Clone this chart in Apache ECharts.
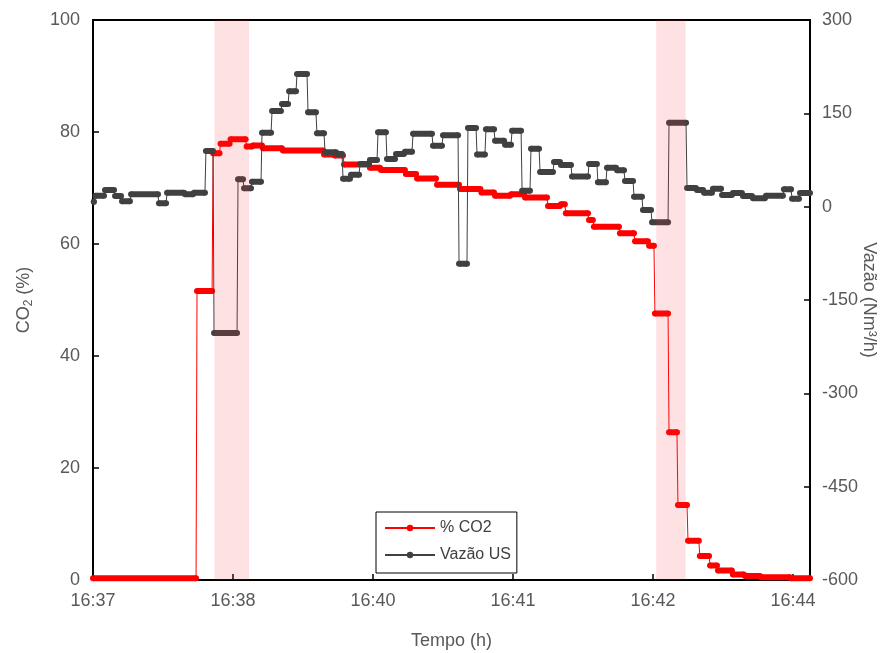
<!DOCTYPE html>
<html>
<head>
<meta charset="utf-8">
<script src="https://cdn.jsdelivr.net/npm/echarts@6/dist/echarts.min.js"></script>
<style>
  html, body { margin: 0; padding: 0; background: #fff; }
  #chart { width: 890px; height: 653px; }
</style>
</head>
<body>
<div id="chart"></div>
<script>
// time in seconds from the left edge of the axis (labelled 16:37)
var tickStep = 86.4;
var timeMax = 442.5;
var tickLabels = ["16:37", "16:38", "16:40", "16:41", "16:42", "16:44"];

// highlighted windows [start, end]
var bands = [
  [74.9, 96.3],
  [347.6, 365.8]
];

// % CO2, steps as [start, end, value]
var co2Steps = [
  [0, 63.6, 0.3], [64.2, 73.5, 51.6], [74.1, 78.1, 76.2], [78.7, 84.3, 77.9],
  [84.9, 94.2, 78.7], [94.8, 98.1, 77.4], [98.7, 104.3, 77.6], [104.9, 116.6, 77.1],
  [117.2, 142.0, 76.7], [142.6, 148.5, 76.0], [149.1, 154.3, 75.8], [154.9, 170.3, 74.2],
  [170.9, 177.1, 73.6], [177.7, 192.5, 73.2], [193.1, 199.4, 72.5], [200.0, 211.7, 71.7],
  [212.3, 225.9, 70.6], [226.5, 239.1, 69.8], [239.7, 247.5, 69.2], [248.1, 257.4, 68.6],
  [258.0, 266.0, 68.9], [266.6, 280.2, 68.3], [280.8, 288.2, 66.8], [288.8, 291.2, 67.1],
  [291.8, 305.5, 65.5], [306.1, 308.5, 64.3], [309.1, 324.6, 63.1], [325.2, 333.9, 61.9],
  [334.5, 342.5, 60.5], [343.2, 346.2, 59.7], [346.8, 354.9, 47.6], [355.5, 360.4, 26.4],
  [361.0, 366.6, 13.4], [367.2, 373.9, 7.0], [374.5, 380.2, 4.3], [380.8, 385.1, 2.6],
  [385.7, 394.3, 1.7], [394.9, 401.7, 1.0], [402.4, 411.6, 0.7], [412.2, 430.2, 0.5],
  [430.8, 442.5, 0.3]
];

// Vazão US (Nm3/h), steps as [start, end, value]
var flowSteps = [
  [0.5, 0.5, 8], [1.5, 6.8, 17.6], [7.4, 13.0, 26.8], [13.6, 17.3, 17.1],
  [17.9, 22.8, 8.6], [23.5, 40.1, 19.9], [40.7, 45.1, 5.4], [45.7, 56.2, 22.5],
  [56.8, 61.7, 19.9], [62.3, 69.1, 22.5], [69.7, 74.1, 89.5], [74.7, 88.9, -203],
  [89.5, 92.6, 44], [93.2, 97.5, 29.5], [98.1, 103.7, 40.1], [104.3, 109.9, 118.9],
  [110.5, 116.0, 153.8], [116.6, 120.4, 165], [121.0, 125.3, 185.4], [125.9, 132.1, 213.2],
  [132.7, 137.6, 151.7], [138.2, 142.6, 117.9], [143.2, 150.0, 87.5], [150.6, 153.7, 84.6],
  [154.3, 158.6, 45], [159.2, 164.2, 51.4], [164.8, 170.3, 68.6], [170.9, 175.3, 75],
  [175.9, 180.8, 119.5], [181.4, 186.4, 76.6], [187.0, 191.9, 84.6], [192.5, 196.9, 88.3],
  [197.5, 209.2, 117.3], [209.8, 215.4, 98], [216.0, 225.3, 114.7], [225.9, 230.8, -91.6],
  [231.4, 236.4, 126.4], [237.0, 241.9, 84], [242.5, 247.5, 124.3], [248.1, 253.7, 106],
  [254.3, 258.0, 99.6], [258.6, 264.2, 122.1], [264.8, 269.7, 25.7], [270.3, 275.3, 93.2],
  [275.9, 283.9, 55.7], [284.5, 288.2, 71.8], [288.8, 295.0, 67], [295.6, 305.5, 48.5],
  [306.1, 311.0, 68.6], [311.6, 316.6, 39.2], [317.2, 322.8, 62.6], [323.4, 327.7, 58.5],
  [328.3, 333.3, 41.3], [333.9, 338.8, 16], [339.4, 344.4, -5.3], [345.0, 354.9, -25.1],
  [355.5, 366.0, 135], [366.6, 372.1, 30], [372.7, 376.5, 26.8], [377.1, 382.0, 22.5],
  [382.6, 387.6, 28.9], [388.2, 394.3, 18.8], [394.9, 400.5, 22], [401.1, 406.7, 17.1],
  [407.3, 414.7, 13.4], [415.3, 425.8, 17.6], [426.4, 430.8, 27.9], [431.4, 435.7, 12.8],
  [436.3, 442.5, 22]
];

var textColor = "#595959";
var co2Color = "#ff0000";
var flowColor = "#404040";

// thin path through every step end
function pathData(steps) {
  var out = [];
  steps.forEach(function(s) {
    out.push([s[0], s[2]]);
    out.push([s[1], s[2]]);
  });
  return out;
}

// thick plateaus, broken between steps
function plateauData(steps) {
  var out = [];
  steps.forEach(function(s) {
    out.push([s[0], s[2]]);
    out.push([s[1], s[2]]);
    out.push([s[1], "-"]);
  });
  return out;
}

var chart = echarts.init(document.getElementById("chart"));

function stepSeries(name, steps, color, yIndex) {
  return [
    {
      name: name,
      type: "line",
      yAxisIndex: yIndex,
      data: pathData(steps),
      symbol: "circle",
      symbolSize: 6,
      showAllSymbol: true,
      itemStyle: { color: color },
      lineStyle: { color: color, width: 1 },
      z: yIndex ? 4 : 2
    },
    {
      name: name + "_plateau",
      type: "line",
      yAxisIndex: yIndex,
      data: plateauData(steps),
      symbol: "none",
      connectNulls: false,
      lineStyle: { color: color, width: 6 },
      z: yIndex ? 4 : 2
    }
  ];
}

var series = []
  .concat(stepSeries("% CO2", co2Steps, co2Color, 0))
  .concat(stepSeries("Vazão US", flowSteps, flowColor, 1));

series.push({
  type: "custom",
  z: 10,
  silent: true,
  data: bands,
  renderItem: function(params, api) {
    var p0 = api.coord([api.value(0), 100]);
    var p1 = api.coord([api.value(1), 0]);
    return {
      type: "rect",
      shape: { x: p0[0], y: p0[1], width: p1[0] - p0[0], height: p1[1] - p0[1] },
      style: { fill: "rgba(240, 40, 60, 0.14)" }
    };
  }
});

var chartOption = {
  animation: false,
  backgroundColor: "#fff",
  textStyle: { fontFamily: "Liberation Sans, Arial, sans-serif" },
  grid: {
    left: 93,
    right: 80,
    top: 20,
    bottom: 73,
    outerBoundsMode: "none",
    containLabel: false,
    show: true,
    borderColor: "#000",
    borderWidth: 2
  },
  legend: {
    data: ["% CO2", "Vazão US"],
    orient: "vertical",
    left: 376,
    top: 512,
    itemWidth: 50,
    itemHeight: 8,
    itemGap: 11,
    padding: [8, 6, 10, 8],
    borderColor: "#000",
    borderWidth: 1,
    backgroundColor: "#fff",
    textStyle: { fontSize: 16, color: "#404040" }
  },
  xAxis: {
    type: "value",
    min: 0,
    max: timeMax,
    interval: tickStep,
    name: "Tempo (h)",
    nameLocation: "middle",
    nameGap: 52,
    nameMoveOverlap: false,
    nameTextStyle: { fontSize: 18, color: textColor },
    axisLine: { lineStyle: { color: "#000", width: 2 } },
    axisTick: { inside: true, length: 6, lineStyle: { color: "#000", width: 1.5 } },
    axisLabel: {
      fontSize: 18,
      color: textColor,
      margin: 12,
      formatter: function(v) {
        var i = Math.round(v / tickStep);
        if (Math.abs(v - i * tickStep) > 0.01) return "";
        return tickLabels[i] || "";
      }
    },
    splitLine: { show: false }
  },
  yAxis: [
    {
      type: "value",
      min: 0,
      max: 100,
      interval: 20,
      name: "CO{s|2} (%)",
      nameLocation: "middle",
      nameGap: 58,
      nameMoveOverlap: false,
      nameTextStyle: {
        fontSize: 18,
        color: textColor,
        rich: { s: { fontSize: 12, color: textColor, padding: [10, 0, 0, 0] } }
      },
      axisLine: { show: true, lineStyle: { color: "#000", width: 2 } },
      axisTick: { show: true, inside: true, length: 6, lineStyle: { color: "#000", width: 1.5 } },
      axisLabel: { fontSize: 18, color: textColor, margin: 13 },
      splitLine: { show: false }
    },
    {
      type: "value",
      position: "right",
      min: -600,
      max: 300,
      interval: 150,
      name: "Vazão (Nm³/h)",
      nameLocation: "middle",
      nameRotate: -90,
      nameGap: 50,
      nameMoveOverlap: false,
      nameTextStyle: { fontSize: 18, color: textColor },
      axisLine: { show: true, lineStyle: { color: "#000", width: 2 } },
      axisTick: { show: true, inside: true, length: 6, lineStyle: { color: "#000", width: 1.5 } },
      axisLabel: { fontSize: 18, color: textColor, margin: 12 },
      splitLine: { show: false }
    }
  ],
  series: series
};

chart.setOption(chartOption);
</script>
</body>
</html>
